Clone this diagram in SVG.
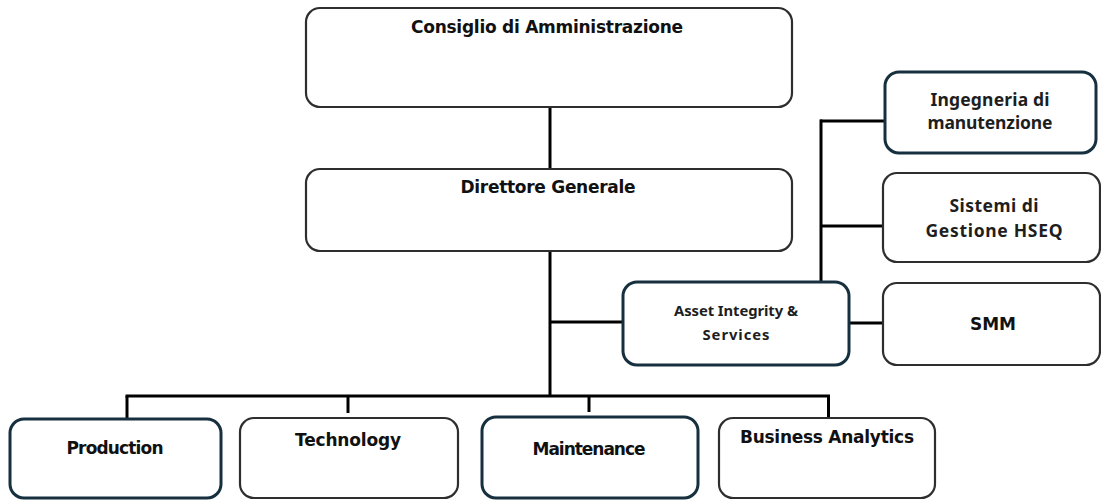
<svg xmlns="http://www.w3.org/2000/svg" width="1101" height="501" viewBox="0 0 1101 501">
  <defs>
    <style>
      .box { fill: #ffffff; stroke: #2e2e2e; stroke-width: 2.2; }
      .tbox { fill: #ffffff; stroke: #16303f; stroke-width: 3; }
      .conn { stroke: #000000; stroke-width: 3; fill: none; stroke-linecap: butt; }
      .t1 { font-family: "DejaVu Sans", Verdana, sans-serif; font-weight: bold; font-size: 17px; fill: #111111; text-anchor: middle; }
      .t2 { font-family: "Noto Sans", "Open Sans", sans-serif; font-weight: bold; font-size: 17.5px; fill: #1e1e1e; text-anchor: middle; }
      .t3 { font-family: "Noto Sans", "Open Sans", sans-serif; font-weight: bold; font-size: 14.8px; fill: #1e1e1e; text-anchor: middle; }
    </style>
  </defs>
  <rect width="1101" height="501" fill="#ffffff"/>

  <g id="connectors">
    <line class="conn" x1="550" y1="106" x2="550" y2="170"/>
    <line class="conn" x1="550" y1="250" x2="550" y2="397"/>
    <line class="conn" x1="550" y1="322" x2="623" y2="322"/>
    <line class="conn" x1="125.5" y1="396" x2="830" y2="396"/>
    <line class="conn" x1="127" y1="396" x2="127" y2="419"/>
    <line class="conn" x1="348" y1="396" x2="348" y2="413"/>
    <line class="conn" x1="589" y1="396" x2="589" y2="412"/>
    <line class="conn" x1="828.5" y1="396" x2="828.5" y2="418"/>
    <line class="conn" x1="821" y1="119.5" x2="821" y2="282"/>
    <line class="conn" x1="820" y1="121" x2="885" y2="121"/>
    <line class="conn" x1="820" y1="226" x2="883" y2="226"/>
    <line class="conn" x1="849" y1="323" x2="883" y2="323"/>
  </g>

  <g id="consiglio">
    <rect class="box" x="306" y="8" width="486" height="99" rx="14"/>
    <text class="t1" x="547" y="33" textLength="272">Consiglio di Amministrazione</text>
  </g>

  <g id="direttore">
    <rect class="box" x="306" y="169" width="486" height="82" rx="14"/>
    <text class="t1" x="548" y="193" textLength="175">Direttore Generale</text>
  </g>

  <g id="ingegneria">
    <rect class="tbox" x="885" y="72" width="211" height="81" rx="14"/>
    <text class="t2" x="990" y="106" textLength="119">Ingegneria di</text>
    <text class="t2" x="990" y="129" textLength="125">manutenzione</text>
  </g>

  <g id="sistemi">
    <rect class="box" x="883" y="173" width="217" height="89" rx="14"/>
    <text class="t2" x="994" y="212" textLength="89">Sistemi di</text>
    <text class="t2" x="994" y="237" textLength="137">Gestione HSEQ</text>
  </g>

  <g id="asset">
    <rect class="tbox" x="623" y="282" width="226" height="83" rx="14"/>
    <text class="t3" x="736" y="316" textLength="124">Asset Integrity &amp;</text>
    <text class="t3" x="736" y="340" textLength="67">Services</text>
  </g>

  <g id="smm">
    <rect class="box" x="883" y="283" width="217" height="82" rx="14"/>
    <text class="t1" x="993" y="330" textLength="46">SMM</text>
  </g>

  <g id="production">
    <rect class="tbox" x="10" y="419" width="211" height="79" rx="14"/>
    <text class="t1" x="115" y="454" textLength="97">Production</text>
  </g>

  <g id="technology">
    <rect class="box" x="240" y="418" width="218" height="80" rx="14"/>
    <text class="t1" x="348" y="446" textLength="106">Technology</text>
  </g>

  <g id="maintenance">
    <rect class="tbox" x="482" y="417" width="216" height="81" rx="14"/>
    <text class="t1" x="589" y="455" textLength="113">Maintenance</text>
  </g>

  <g id="business">
    <rect class="box" x="719" y="418" width="216" height="80" rx="14"/>
    <text class="t1" x="827" y="443" textLength="174">Business Analytics</text>
  </g>
</svg>
